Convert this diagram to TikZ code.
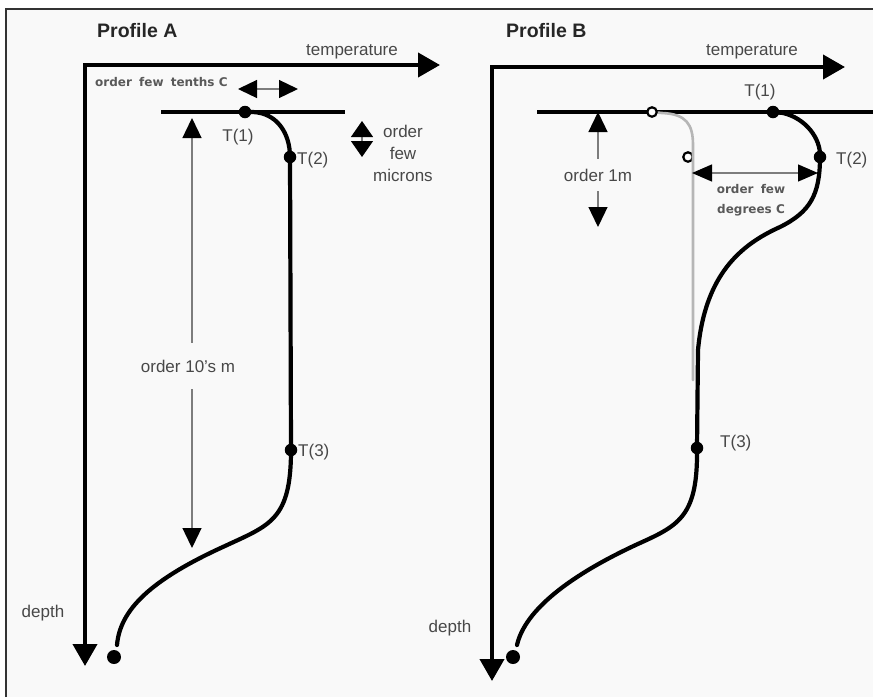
\documentclass[tikz,border=0pt]{standalone}
\usepackage{fontspec}
\setmainfont{Liberation Sans}
\newfontfamily\tinyfont{DejaVu Sans}
\usetikzlibrary{arrows.meta}

\definecolor{paper}{RGB}{249,249,249}
\definecolor{labelgray}{RGB}{72,72,72}
\definecolor{shaftgray}{RGB}{125,125,125}
\definecolor{coolgray}{RGB}{182,182,182}

\begin{document}
\begin{tikzpicture}[x=1pt,y=-1pt,
	every node/.style={inner sep=0pt,text=labelgray,font=\fontsize{17}{20}\selectfont},
	title/.style={font=\fontsize{19.5}{22}\selectfont\bfseries,text=black!85},
	tiny/.style={font=\tinyfont\bfseries\fontsize{12}{20}\selectfont,text=black!65,align=center},
	axis/.style={line width=4pt,line cap=rect,-{Triangle[length=22pt,width=24pt]}},
	surface/.style={line width=3.2pt},
	profile/.style={line width=4.2pt,line cap=round},
	cool/.style={line width=2.6pt,coolgray,line cap=round},
	tip/.style={-{Triangle[length=20pt,width=19pt,color=black,fill=black]}},
	shaft/.style={line width=1.3pt,shaftgray,tip},
	span/.style={line width=1.3pt,shaftgray},
	dot/.style={circle,fill=black,minimum size=12.5pt},
	enddot/.style={circle,fill=black,minimum size=14pt},
	opendot/.style={circle,draw=black,fill=white,line width=2.2pt,minimum size=9.5pt}]
	\fill[white] (0,0) rectangle (873,697);
	\fill[paper] (6,9) rectangle (873,697);
	\useasboundingbox (0,0) rectangle (873,697);
	\draw[line width=2pt,black!80] (6,697) -- (6,9) -- (873,9);

	\coordinate (oA) at (85,65);
	\coordinate (tA) at (440,65);
	\coordinate (dA) at (85,666);
	\draw[axis] (oA) -- (tA);
	\draw[axis] (oA) -- (dA);
	\coordinate (sA1) at (161,112);
	\coordinate (sA2) at (345,112);
	\draw[surface] (sA1) -- (sA2);
	\coordinate (T1A) at (245,112);
	\coordinate (T2A) at (290,157);
	\coordinate (T3A) at (291,450);
	\coordinate (endA) at (117,645);
	\draw[profile] (T1A) -- (253,112) .. controls (276,113) and (290,132) .. (T2A) -- (T3A)
		.. controls (291,520) and (270,525) .. (225,546) .. controls (150,580) and (120,610) .. (endA);
	\node[dot] (dT1A) at (T1A) {};
	\node[dot] (dT2A) at (T2A) {};
	\node[dot] (dT3A) at (T3A) {};
	\node[enddot] (bA) at (114,657) {};

	\node[title,anchor=west] (titleA) at (97,31) {Profile A};
	\node (tempA) at (352,52) {temperature};
	\node (depthA) at (43,613) {depth};
	\node[tiny,anchor=west] (tenths) at (95,82) {order\hspace{3pt} few\hspace{3pt} tenths C};
	\node (lT1A) at (238,137) {T(1)};
	\node[anchor=west] (lT2A) at (297,160) {T(2)};
	\node[anchor=west] (lT3A) at (298,452) {T(3)};
	\node[align=center,font=\fontsize{17}{22}\selectfont] (microns) at (403,153) {order\\few\\microns};
	\node[inner xsep=2pt,inner ysep=17pt] (tensm) at (188,366) {order 10's m};

	\coordinate (tenL) at (238,89);
	\coordinate (tenR) at (298,89);
	\draw[span,{Triangle[length=19pt,width=18pt,color=black,fill=black]}-{Triangle[length=19pt,width=18pt,color=black,fill=black]}] (tenL) -- (tenR);
	\coordinate (micU) at (362,121);
	\coordinate (micD) at (362,157);
	\draw[span,{Triangle[length=16pt,width=22pt,color=black,fill=black]}-{Triangle[length=16pt,width=22pt,color=black,fill=black]}] (micU) -- (micD);
	\coordinate (tenU) at (192,118);
	\coordinate (tenD) at (192,548);
	\draw[shaft] (tensm.north -| tenU) -- (tenU);
	\draw[shaft] (tensm.south -| tenU) -- (tenD);

	\coordinate (oB) at (492,67);
	\coordinate (tB) at (845,67);
	\coordinate (dB) at (492,681);
	\draw[axis] (oB) -- (tB);
	\draw[axis] (oB) -- (dB);
	\coordinate (sB1) at (537,112);
	\coordinate (sB2) at (873,112);
	\draw[surface] (sB1) -- (sB2);
	\coordinate (T1B) at (773,112);
	\coordinate (T2B) at (820,157);
	\coordinate (T3B) at (697,448);
	\coordinate (endB) at (517,645);
	\coordinate (oc1) at (652,112);
	\coordinate (oc2) at (688,157);
	\coordinate (coolEnd) at (693,380);
	\node[opendot] (c2) at (oc2) {};
	\draw[cool] (oc1) -- (662,113) .. controls (686,114) and (693,124) .. (693,145) -- (coolEnd);
	\node[opendot] (c1) at (oc1) {};
	\draw[profile] (T1B) -- (783,113) .. controls (805,118) and (821,138) .. (T2B)
		.. controls (820,195) and (810,212) .. (780,227) .. controls (740,245) and (705,275) .. (698,350) -- (T3B)
		.. controls (698,515) and (680,525) .. (640,543) .. controls (570,575) and (525,610) .. (endB);
	\node[dot] (dT1B) at (T1B) {};
	\node[dot] (dT2B) at (T2B) {};
	\node[dot] (dT3B) at (T3B) {};
	\node[enddot] (bB) at (513,657) {};

	\node[title,anchor=west] (titleB) at (506,31) {Profile B};
	\node (tempB) at (752,52) {temperature};
	\node (depthB) at (450,628) {depth};
	\node (lT1B) at (760,92) {T(1)};
	\node[anchor=west] (lT2B) at (836,160) {T(2)};
	\node[anchor=west] (lT3B) at (720,443) {T(3)};
	\node[tiny] (degrees) at (751,200) {order\hspace{3pt} few\\degrees C};
	\node[inner xsep=2pt,inner ysep=10pt] (onem) at (598,175) {order 1m};

	\coordinate (degL) at (692,173);
	\coordinate (degR) at (818,173);
	\draw[span,{Triangle[length=20pt,width=17pt,color=black,fill=black]}-{Triangle[length=20pt,width=17pt,color=black,fill=black]}] (degL) -- (degR);
	\coordinate (oneU) at (598,112);
	\coordinate (oneD) at (598,227);
	\draw[shaft] (onem.north -| oneU) -- (oneU);
	\draw[shaft] (onem.south -| oneU) -- (oneD);
\end{tikzpicture}
\end{document}
